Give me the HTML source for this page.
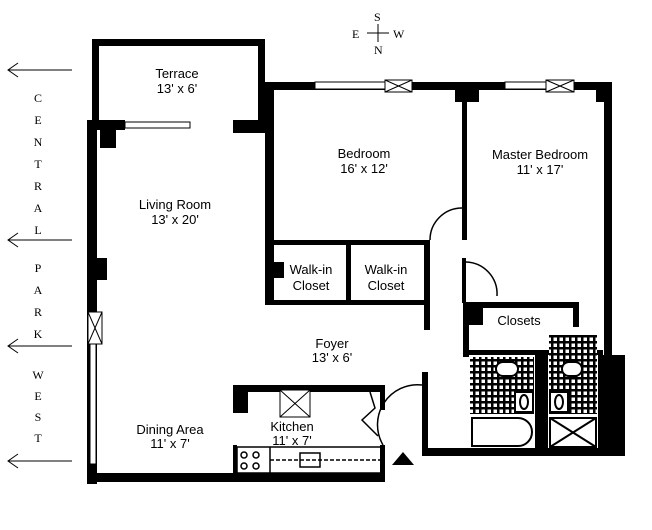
<!DOCTYPE html>
<html><head><style>
body{margin:0;background:#fff}
svg{display:block}
text{font-family:"Liberation Sans",sans-serif;font-size:13px;fill:#000}
.s{font-family:"Liberation Serif",serif;font-size:12px}
</style></head><body>
<svg width="652" height="530" viewBox="0 0 652 530" xmlns="http://www.w3.org/2000/svg">
<defs>
<pattern id="tile" width="6" height="6" patternUnits="userSpaceOnUse"><rect width="6" height="6" fill="#000"/><rect x="1.5" y="1.5" width="3.5" height="3.5" fill="#fff"/></pattern>
</defs>
<!-- compass -->
<text class="s" x="374" y="21">S</text><text class="s" x="352" y="38">E</text><text class="s" x="393" y="38">W</text><text class="s" x="374" y="54">N</text>
<line x1="367" y1="33" x2="389" y2="33" stroke="#000"/><line x1="378" y1="24" x2="378" y2="42" stroke="#000"/>
<!-- left arrows -->
<g stroke="#000" fill="none" stroke-width="1">
<line x1="72" y1="70" x2="8" y2="70"/><polyline points="18,63 8,70 18,77"/>
<line x1="72" y1="240" x2="8" y2="240"/><polyline points="18,233 8,240 18,247"/>
<line x1="72" y1="346" x2="8" y2="346"/><polyline points="18,339 8,346 18,353"/>
<line x1="72" y1="461" x2="8" y2="461"/><polyline points="18,454 8,461 18,468"/>
</g>
<g class="s" text-anchor="middle">
<text class="s" x="38" y="102">C</text><text class="s" x="38" y="124">E</text><text class="s" x="38" y="146">N</text><text class="s" x="38" y="168">T</text><text class="s" x="38" y="190">R</text><text class="s" x="38" y="212">A</text><text class="s" x="38" y="234">L</text>
<text class="s" x="38" y="272">P</text><text class="s" x="38" y="294">A</text><text class="s" x="38" y="316">R</text><text class="s" x="38" y="338">K</text>
<text class="s" x="38" y="379">W</text><text class="s" x="38" y="400">E</text><text class="s" x="38" y="421">S</text><text class="s" x="38" y="442">T</text>
</g>
<g fill="#000">
<!-- terrace -->
<rect x="92" y="39" width="173" height="7"/>
<rect x="92" y="39" width="7" height="85"/>
<rect x="258" y="39" width="7" height="85"/>
<!-- living top -->
<rect x="87" y="120" width="38" height="10"/><rect x="100" y="128" width="16" height="20"/>
<rect x="233" y="120" width="40" height="13"/>
<!-- left wall -->
<rect x="87" y="120" width="10" height="364"/>
<rect x="97" y="258" width="10" height="22"/>
<rect x="87" y="473" width="298" height="9"/>
<!-- top bedrooms -->
<rect x="265" y="82" width="347" height="8"/>
<rect x="265" y="82" width="9" height="223"/>
<rect x="455" y="90" width="24" height="12"/>
<rect x="462" y="100" width="5" height="140"/>
<rect x="462" y="258" width="4" height="45"/>
<rect x="604" y="82" width="8" height="273"/>
<rect x="596" y="90" width="10" height="12"/>
<!-- closets row -->
<rect x="266" y="240" width="164" height="5"/>
<rect x="266" y="300" width="164" height="5"/>
<rect x="346" y="245" width="5" height="57"/>
<rect x="424" y="240" width="6" height="90"/>
<rect x="274" y="262" width="10" height="16"/>
<!-- closets box -->
<rect x="463" y="302" width="115" height="6"/>
<rect x="463" y="302" width="6" height="55"/>
<rect x="469" y="308" width="14" height="17"/>
<rect x="573" y="302" width="6" height="25"/>
<!-- kitchen -->
<rect x="233" y="385" width="152" height="7"/>
<rect x="233" y="385" width="15" height="28"/>
<rect x="380" y="385" width="5" height="25"/>
<rect x="380" y="445" width="5" height="37"/>
<rect x="233" y="445" width="4" height="35"/>
<!-- foyer right / bath -->
<rect x="422" y="372" width="6" height="84"/>
<rect x="422" y="448" width="203" height="8"/>
<rect x="598" y="355" width="27" height="100"/>
<rect x="535" y="355" width="13" height="100"/>
<rect x="463" y="350" width="140" height="5"/>
</g>
<!-- windows -->
<g stroke="#000" fill="#fff">
<rect x="125" y="122" width="65" height="6"/>
<rect x="315" y="82" width="70" height="7"/>
<rect x="385" y="80" width="27" height="12"/>
<line x1="385" y1="80" x2="412" y2="92"/><line x1="412" y1="80" x2="385" y2="92"/>
<rect x="505" y="82" width="41" height="7"/>
<rect x="546" y="80" width="28" height="12"/>
<line x1="546" y1="80" x2="574" y2="92"/><line x1="574" y1="80" x2="546" y2="92"/>
<rect x="88" y="312" width="14" height="32"/>
<line x1="88" y1="312" x2="102" y2="344"/><line x1="102" y1="312" x2="88" y2="344"/>
<rect x="90" y="344" width="6" height="120"/>
<rect x="280" y="390" width="30" height="27"/>
<line x1="280" y1="390" x2="310" y2="417"/><line x1="310" y1="390" x2="280" y2="417"/>
</g>
<!-- kitchen counter -->
<g stroke="#000" fill="none" stroke-width="1.5">
<rect x="237" y="447" width="145" height="26"/>
<line x1="270" y1="447" x2="270" y2="473"/>
<line x1="270" y1="460" x2="380" y2="460" stroke-dasharray="4,2"/>
<rect x="300" y="453" width="20" height="14"/>
<circle cx="244" cy="455" r="3"/><circle cx="256" cy="455" r="3"/><circle cx="244" cy="466" r="3"/><circle cx="256" cy="466" r="3"/>
<polyline points="370,392 375,408 362,420 378,436" />
<!-- doors -->
<path d="M430,240 A32,32 0 0 1 462,208"/>
<path d="M466,262 A32,32 0 0 1 497,296"/>
<path d="M422,385 A40,40 0 0 0 383,445"/>
</g>
<!-- bath tiles -->
<rect x="470" y="357" width="64" height="57" fill="url(#tile)"/>
<rect x="549" y="335" width="48" height="79" fill="url(#tile)"/>
<g stroke="#000" stroke-width="2" fill="#fff">
<rect x="496" y="362" width="22" height="14" rx="7"/>
<rect x="515" y="392" width="18" height="20"/><ellipse cx="524" cy="402" rx="4" ry="7"/>
<rect x="550" y="392" width="18" height="20"/><ellipse cx="559" cy="402" rx="4" ry="7"/>
<rect x="562" y="362" width="20" height="14" rx="7"/>
<path d="M472,418 H518 A13,13 0 0 1 518,446 H472 Z"/>
<rect x="550" y="418" width="46" height="29"/>
<line x1="550" y1="418" x2="596" y2="447"/><line x1="596" y1="418" x2="550" y2="447"/>
</g>
<polygon points="403,452 414,465 392,465" fill="#000"/>
<!-- labels -->
<g text-anchor="middle">
<text x="177" y="78">Terrace</text><text x="177" y="93">13' x 6'</text>
<text x="175" y="209">Living Room</text><text x="175" y="224">13' x 20'</text>
<text x="364" y="158">Bedroom</text><text x="364" y="173">16' x 12'</text>
<text x="540" y="159">Master Bedroom</text><text x="540" y="174">11' x 17'</text>
<text x="311" y="274">Walk-in</text><text x="311" y="290">Closet</text>
<text x="386" y="274">Walk-in</text><text x="386" y="290">Closet</text>
<text x="519" y="325">Closets</text>
<text x="332" y="348">Foyer</text><text x="332" y="362">13' x 6'</text>
<text x="170" y="434">Dining Area</text><text x="170" y="448">11' x 7'</text>
<text x="292" y="431">Kitchen</text><text x="292" y="445">11' x 7'</text>
</g>
</svg>
</body></html>
